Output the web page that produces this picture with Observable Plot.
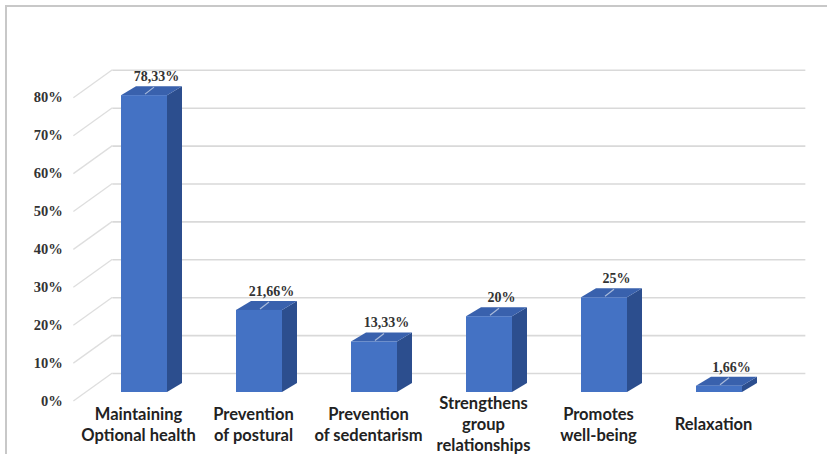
<!DOCTYPE html>
<html>
<head>
<meta charset="utf-8">
<script src="https://cdn.jsdelivr.net/npm/d3@7"></script>
<script src="https://cdn.jsdelivr.net/npm/@observablehq/plot@0.6"></script>
<style>
  html, body { margin: 0; padding: 0; background: #fff; }
  #chart { position: relative; width: 827px; height: 454px; overflow: hidden; }
  #chart .edge {
    position: absolute; left: 5px; top: 5px; right: -10px; bottom: -10px;
    border-top: 2px solid #c8c8c8; border-left: 2px solid #c8c8c8;
    pointer-events: none;
  }
</style>
</head>
<body>
<div id="chart"><div class="edge"></div></div>
<script>
// Reasons given for practising physical activity (share of respondents, %)
const categories = [
  "Maintaining\nOptional health",
  "Prevention\nof postural",
  "Prevention\nof sedentarism",
  "Strengthens\ngroup\nrelationships",
  "Promotes\nwell-being",
  "Relaxation"
];
const shares = [78.33, 21.66, 13.33, 20, 25, 1.66];
const yTicks = [0, 10, 20, 30, 40, 50, 60, 70, 80];

const rows = categories.map((category, i) => ({category, share: shares[i]}));

// pseudo-3D offsets (pixels): bar depth, back wall, front axis plane
const depth = {dx: 15, dy: -9};
const wall = {dx: 27, dy: -19};
const front = {dx: -12, dy: 9};

const colors = {front: "#4472c4", top: "#3961ad", side: "#2c4e8e", grid: "#d9d9d9"};
const pct = v => String(v).replace(".", ",") + "%";

// diagonal grid lines joining the front axis plane to the back wall
function wallDiagonals(index, {x, y}, values, dimensions) {
  const left = dimensions.marginLeft;
  const g = d3.create("svg:g")
    .attr("stroke", "#dedede").attr("stroke-width", 1.3).attr("fill", "none");
  for (const t of yTicks) {
    g.append("line")
      .attr("x1", left + front.dx).attr("y1", y(t) + front.dy)
      .attr("x2", left + wall.dx).attr("y2", y(t) + wall.dy);
  }
  return g.node();
}

// side and top faces of each bar, plus the leader line on the top face
function barFaces(index, {x, y}) {
  const bw = x.bandwidth();
  const g = d3.create("svg:g");
  for (const r of rows) {
    const x0 = x(r.category), x1 = x0 + bw;
    const yt = y(r.share), yb = y(0);
    g.append("path")
      .attr("fill", colors.side)
      .attr("d", `M${x1},${yt}L${x1 + depth.dx},${yt + depth.dy}L${x1 + depth.dx},${yb + depth.dy}L${x1},${yb}Z`);
    g.append("path")
      .attr("fill", colors.top)
      .attr("d", `M${x0},${yt}L${x0 + depth.dx},${yt + depth.dy}L${x1 + depth.dx},${yt + depth.dy}L${x1},${yt}Z`);
    const cx = x0 + bw / 2;
    g.append("line")
      .attr("stroke", "#a9bbdb").attr("stroke-width", 1.2)
      .attr("x1", cx + 1).attr("y1", yt - 1)
      .attr("x2", cx + 10).attr("y2", yt - 8);
  }
  return g.node();
}

const chart = Plot.plot({
  width: 827,
  height: 454,
  marginLeft: 85.35,
  marginRight: 48.65,
  marginTop: 88.8,
  marginBottom: 62,
  style: {background: "transparent", overflow: "visible"},
  x: {domain: categories, paddingInner: 0.6, paddingOuter: 0.3, axis: null},
  y: {domain: [0, 80], axis: null},
  marks: [
    Plot.ruleY(yTicks, {dx: wall.dx, dy: wall.dy, stroke: colors.grid, strokeWidth: 1.6}),
    wallDiagonals,
    Plot.text(yTicks, {
      y: d => d, text: d => d + "%", frameAnchor: "left", textAnchor: "end",
      dx: -23, dy: 8.5, fill: "#333", fontSize: 14.5, fontWeight: "bold",
      fontFamily: "Liberation Serif, Times New Roman, serif"
    }),
    barFaces,
    Plot.barY(rows, {x: "category", y: "share", fill: colors.front}),
    Plot.text(rows, {
      x: "category", y: "share", text: d => pct(d.share),
      dx: 12, dy: -19, fill: "#333", fontSize: 14, fontWeight: "bold",
      fontFamily: "Liberation Serif, Times New Roman, serif"
    }),
    Plot.text(rows, {
      x: "category", text: "category", frameAnchor: "bottom", lineAnchor: "middle",
      dx: -6, dy: 31, lineHeight: 1.28, fill: "#222", fontSize: 16.5, fontWeight: "bold",
      fontFamily: "Lato, Open Sans, sans-serif"
    })
  ]
});

document.getElementById("chart").prepend(chart);
</script>
</body>
</html>
